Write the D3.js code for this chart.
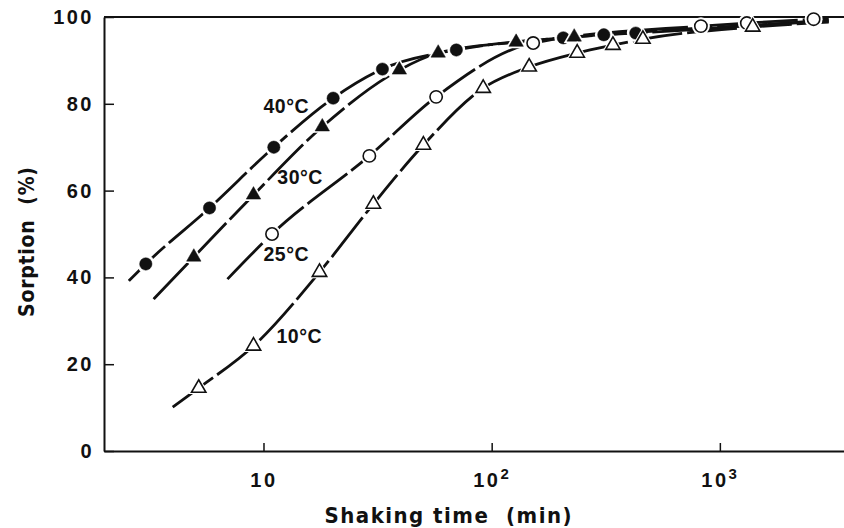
<!DOCTYPE html>
<html>
<head>
<meta charset="utf-8">
<script src="https://cdn.jsdelivr.net/npm/d3@7"></script>
<style>
  html, body { margin: 0; padding: 0; background: #fff; }
  svg { display: block; }
</style>
</head>
<body>
<div id="chart"></div>
<script>
'use strict';

// temperatures (one curve each)
const temps = ['40°C', '30°C', '25°C', '10°C'];

// measured points, shaking time (min) and sorption (%)
const time40 = [3.05, 5.8, 11.1, 20.2, 33.2, 70, 206, 310, 428];
const sorp40 = [43.1, 56.0, 70.0, 81.3, 88.0, 92.4, 95.2, 95.9, 96.3];
const time30 = [4.95, 9.04, 18.1, 39.4, 58.3, 128, 230];
const sorp30 = [44.7, 59.0, 74.7, 87.8, 91.7, 94.2, 95.4];
const time25 = [10.9, 29.1, 57.1, 152, 826, 1313, 2576];
const sorp25 = [50.0, 68.0, 81.6, 94.0, 97.9, 98.6, 99.5];
const time10 = [5.2, 9.04, 17.6, 30.3, 50.2, 91.8, 146, 237, 340, 460, 1393];
const sorp10 = [14.5, 24.2, 41.2, 56.9, 70.5, 83.6, 88.5, 91.7, 93.5, 94.9, 97.7];

// where the drawn curves begin and end
const curveStartTime = [2.57, 3.3, 6.95, 4.0];
const curveStartSorp = [39.2, 35.0, 39.6, 10.1];
const curveEndTime = [3000, 3000, 3000, 3000];
const curveEndSorp = [99.3, 99.0, 99.7, 98.8];

// label anchors in data units
const labelTime = [10.0, 11.5, 10.0, 11.4];
const labelSorp = [77.9, 61.5, 43.8, 24.9];

// axis ticks
const xTicks = [10, 100, 1000];
const xTickExp = ['', '2', '3'];
const yTicks = [0, 20, 40, 60, 80, 100];

const width = 844;
const height = 528;
const margin = { top: 17, right: 0, bottom: 77, left: 104 };

const svg = d3.select('#chart')
    .append('svg')
    .attr('width', width)
    .attr('height', height);

const xScale = d3.scaleLog()
    .domain([2, 3500])
    .range([margin.left, width - margin.right]);

const yScale = d3.scaleLinear()
    .domain([0, 100])
    .range([height - margin.bottom, margin.top]);

const tickFont = '"Liberation Sans", Arial, sans-serif';

// axes
const xAxis = svg.append('g')
    .attr('transform', `translate(0,${height - margin.bottom})`)
    .call(d3.axisBottom(xScale)
        .tickValues(xTicks)
        .tickSizeInner(-8)
        .tickSizeOuter(0)
        .tickPadding(22)
        .tickFormat(function () { return ''; }));

xAxis.selectAll('.tick text').each(function (d, i) {
    const t = d3.select(this);
    t.append('tspan').text('10');
    if (xTickExp[i]) {
        t.append('tspan')
            .attr('dy', -8)
            .attr('font-size', 15)
            .text(xTickExp[i]);
    }
});

const yAxis = svg.append('g')
    .attr('transform', `translate(${margin.left},0)`)
    .call(d3.axisLeft(yScale)
        .tickValues(yTicks)
        .tickSizeInner(-10)
        .tickSizeOuter(0)
        .tickPadding(10));

[xAxis, yAxis].forEach(function (ax) {
    ax.select('.domain').attr('stroke', '#111').attr('stroke-width', 2);
    ax.selectAll('.tick line').attr('stroke', '#111').attr('stroke-width', 1.5);
    ax.selectAll('.tick text')
        .attr('fill', '#111')
        .attr('font-family', tickFont)
        .attr('font-weight', 700)
        .attr('font-size', 20)
        .attr('letter-spacing', 2.5);
});

// top frame line
svg.append('line')
    .attr('x1', xScale(2))
    .attr('x2', width)
    .attr('y1', yScale(100))
    .attr('y2', yScale(100))
    .attr('stroke', '#111')
    .attr('stroke-width', 2);

// axis titles
const titleFont = '"Liberation Sans Narrow", "DejaVu Sans Condensed", "Liberation Sans", sans-serif';

svg.append('text')
    .attr('x', 448)
    .attr('y', 523)
    .attr('text-anchor', 'middle')
    .attr('font-family', titleFont)
    .attr('font-weight', 700)
    .attr('font-size', 22)
    .attr('fill', '#111')
    .attr('textLength', 247)
    .attr('lengthAdjust', 'spacing')
    .style('white-space', 'pre')
    .text('Shaking time  (min)');

svg.append('text')
    .attr('transform', 'translate(34,242) rotate(-90)')
    .attr('text-anchor', 'middle')
    .attr('font-family', titleFont)
    .attr('font-weight', 700)
    .attr('font-size', 21)
    .attr('fill', '#111')
    .attr('textLength', 150)
    .attr('lengthAdjust', 'spacing')
    .style('white-space', 'pre')
    .text('Sorption  (%)');

// build series
const seriesTimes = [time40, time30, time25, time10];
const seriesSorps = [sorp40, sorp30, sorp25, sorp10];
const markerShape = [d3.symbolCircle, d3.symbolTriangle, d3.symbolCircle, d3.symbolTriangle];
const markerFilled = [true, true, false, false];

const series = temps.map(function (name, i) {
    const pts = seriesTimes[i].map(function (t, j) {
        return { time: t, sorp: seriesSorps[i][j] };
    });
    return {
        name: name,
        points: pts,
        curve: [{ time: curveStartTime[i], sorp: curveStartSorp[i] }]
            .concat(pts)
            .concat([{ time: curveEndTime[i], sorp: curveEndSorp[i] }]),
        shape: markerShape[i],
        filled: markerFilled[i],
        label: { time: labelTime[i], sorp: labelSorp[i] }
    };
});

const lineGen = d3.line()
    .x(function (d) { return xScale(d.time); })
    .y(function (d) { return yScale(d.sorp); })
    .curve(d3.curveMonotoneX);

const plot = svg.append('g');

// curves (drawn first so markers knock gaps into them)
plot.selectAll('path.curve')
    .data(series)
    .join('path')
    .attr('class', 'curve')
    .attr('fill', 'none')
    .attr('stroke', '#111')
    .attr('stroke-width', 2.8)
    .attr('stroke-dasharray', '50,5')
    .attr('d', function (d) { return lineGen(d.curve); });

// markers
series.forEach(function (s) {
    const isTri = s.shape === d3.symbolTriangle;
    const size = isTri ? 90 : 120;
    const sym = d3.symbol().type(s.shape).size(size);
    const halo = d3.symbol().type(s.shape).size(size * 2.1);

    plot.selectAll(null)
        .data(s.points)
        .join('path')
        .attr('transform', function (d) {
            return `translate(${xScale(d.time)},${yScale(d.sorp)})`;
        })
        .attr('d', halo)
        .attr('fill', '#fff');

    plot.selectAll(null)
        .data(s.points)
        .join('path')
        .attr('transform', function (d) {
            return `translate(${xScale(d.time)},${yScale(d.sorp)})`;
        })
        .attr('d', sym)
        .attr('fill', s.filled ? '#111' : '#fff')
        .attr('stroke', '#111')
        .attr('stroke-width', s.filled ? 0.5 : 1.6);
});

// curve labels
plot.selectAll('text.curve-label')
    .data(series)
    .join('text')
    .attr('class', 'curve-label')
    .attr('x', function (d) { return xScale(d.label.time); })
    .attr('y', function (d) { return yScale(d.label.sorp); })
    .attr('font-family', tickFont)
    .attr('font-weight', 700)
    .attr('font-size', 19.5)
    .attr('letter-spacing', 0.5)
    .attr('fill', '#111')
    .text(function (d) { return d.name; });
</script>
</body>
</html>
